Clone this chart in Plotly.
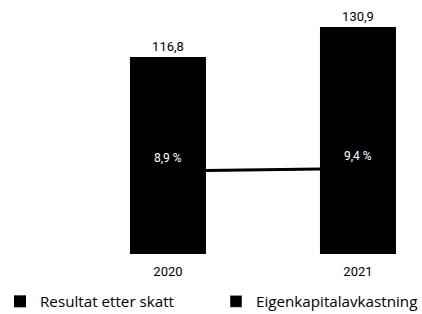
import plotly.graph_objects as go

years = ["2020", "2021"]
resultat = [116.8, 130.9]
eigenkapital = [8.9, 9.4]
resultat_labels = ["116,8", "130,9"]
ek_labels = ["8,9 %", "9,4 %"]

FONT = "Roboto, sans-serif"
LFONT = "Open Sans, sans-serif"

fig = go.Figure()

# line (on primary y, drawn underneath the bars)
fig.add_trace(go.Scatter(
    x=years, y=eigenkapital, mode="lines", yaxis="y",
    line=dict(color="black", width=3), showlegend=False, hoverinfo="skip",
))

# bars on overlaying axis -> drawn above the line
fig.add_trace(go.Bar(
    x=years, y=resultat, yaxis="y2", name="Resultat etter skatt",
    marker=dict(color="black", line=dict(width=0)), width=0.4,
    text=resultat_labels, textposition="outside",
    textfont=dict(color="black", size=13, family=FONT),
    cliponaxis=False, legend="legend",
))

# legend-only entry for the line series
fig.add_trace(go.Bar(
    x=[years[0]], y=[None], yaxis="y2", name="Eigenkapitalavkastning",
    marker=dict(color="black"), legend="legend2",
))

for i, (yv, t) in enumerate(zip(eigenkapital, ek_labels)):
    fig.add_annotation(x=i, y=yv, xref="x", yref="y", text=t, showarrow=False,
                       yshift=13, font=dict(color="white", size=12, family=FONT))

leg_common = dict(orientation="h", y=0.04, xref="container", yref="container",
                  xanchor="left", yanchor="middle", bgcolor="rgba(0,0,0,0)",
                  font=dict(size=15.2, color="black", family=LFONT), itemwidth=30)

fig.update_layout(
    width=422, height=314,
    margin=dict(l=0, r=0, t=0, b=60, autoexpand=False),
    paper_bgcolor="white", plot_bgcolor="white",
    barmode="overlay",
    font=dict(family=FONT, color="black", size=13),
    xaxis=dict(type="category", range=[-0.884, 1.337], showgrid=False,
               showline=False, ticks="", tickfont=dict(size=13, color="black", family=FONT),
               ticklabelstandoff=8),
    yaxis=dict(range=[-7.7, 43.1], visible=False, showgrid=False),
    yaxis2=dict(range=[24.2, 143.6], overlaying="y", visible=False, showgrid=False),
    showlegend=True,
    legend=dict(x=0.0, **leg_common),
    legend2=dict(x=216 / 422, **leg_common),
)

fig.write_html("out.html", config={"displayModeBar": False},
               post_script="document.body.style.margin='0';")
